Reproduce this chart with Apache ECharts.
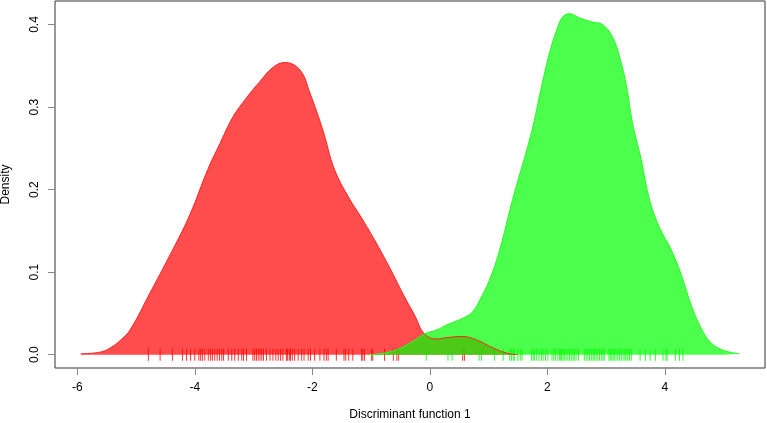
<!DOCTYPE html>
<html>
<head>
<meta charset="utf-8">
<title>Discriminant function 1</title>
<script src="https://cdn.jsdelivr.net/npm/echarts@6/dist/echarts.min.js"></script>
<style>
  html, body { margin: 0; padding: 0; background: #fff; }
  #chart { width: 767px; height: 423px; }
</style>
</head>
<body>
<div id="chart"></div>
<script>
// density curve of group 1 (red)
const redX = [-5.94, -5.61, -5.44, -5.27, -5.10, -4.76, -4.34, -4.08, -3.78, -3.57, -3.35, -3.11, -2.89, -2.67, -2.47, -2.21, -2.04, -1.82, -1.62, -1.36, -1.19, -0.94, -0.68, -0.43, -0.26, -0.09, 0.11, 0.33, 0.56, 0.79, 1.02, 1.30, 1.50]
const redY = [0.001, 0.003, 0.008, 0.017, 0.030, 0.075, 0.132, 0.170, 0.224, 0.256, 0.288, 0.312, 0.331, 0.348, 0.354, 0.345, 0.317, 0.272, 0.224, 0.188, 0.169, 0.139, 0.105, 0.070, 0.048, 0.025, 0.019, 0.021, 0.022, 0.018, 0.010, 0.002, 0.000]
// density curve of group 2 (green)
const greenX = [-1.05, -0.85, -0.56, -0.29, -0.09, 0.12, 0.29, 0.56, 0.73, 0.85, 1.02, 1.19, 1.41, 1.73, 1.90, 2.04, 2.16, 2.26, 2.38, 2.55, 2.77, 2.94, 3.11, 3.23, 3.35, 3.45, 3.60, 3.74, 3.91, 4.11, 4.28, 4.45, 4.62, 4.79, 5.01, 5.27]
const greenY = [0.000, 0.001, 0.006, 0.016, 0.025, 0.030, 0.036, 0.044, 0.052, 0.066, 0.091, 0.127, 0.188, 0.269, 0.324, 0.366, 0.393, 0.409, 0.413, 0.408, 0.403, 0.400, 0.385, 0.361, 0.325, 0.281, 0.236, 0.188, 0.154, 0.127, 0.097, 0.060, 0.032, 0.014, 0.005, 0.001]
// rug of observed scores
const redRug = [-4.79, -4.59, -4.38, -4.21, -4.14, -4.07, -4.00, -3.93, -3.90, -3.87, -3.83, -3.77, -3.73, -3.70, -3.66, -3.62, -3.58, -3.54, -3.51, -3.43, -3.37, -3.32, -3.26, -3.20, -3.17, -3.12, -3.01, -2.98, -2.95, -2.92, -2.89, -2.86, -2.83, -2.78, -2.72, -2.67, -2.62, -2.58, -2.54, -2.50, -2.44, -2.42, -2.39, -2.37, -2.34, -2.30, -2.24, -2.18, -2.14, -2.07, -2.03, -1.96, -1.87, -1.80, -1.76, -1.73, -1.59, -1.46, -1.43, -1.38, -1.31, -1.16, -1.14, -1.11, -0.99, -0.97, -0.77, -0.62, -0.56, -0.53, 0.56, 0.59]
const greenRug = [-0.06, 0.31, 0.38, 0.84, 0.88, 1.10, 1.25, 1.36, 1.39, 1.42, 1.44, 1.50, 1.54, 1.57, 1.73, 1.76, 1.78, 1.82, 1.86, 1.90, 1.93, 1.97, 2.01, 2.08, 2.11, 2.14, 2.18, 2.21, 2.23, 2.24, 2.27, 2.29, 2.32, 2.35, 2.38, 2.41, 2.44, 2.46, 2.49, 2.53, 2.63, 2.66, 2.69, 2.72, 2.75, 2.78, 2.80, 2.83, 2.86, 2.89, 2.92, 2.95, 2.97, 3.05, 3.07, 3.09, 3.12, 3.14, 3.17, 3.20, 3.23, 3.26, 3.29, 3.32, 3.34, 3.37, 3.40, 3.43, 3.58, 3.67, 3.75, 3.84, 3.97, 4.02, 4.04, 4.18, 4.25, 4.31]
const xTicks = [-6, -4, -2, 0, 2, 4]
const yTicks = [0, 0.1, 0.2, 0.3, 0.4]

const font = 'Liberation Sans, Arial, sans-serif'
const myChart = echarts.init(document.getElementById('chart'))

const option = {
  animation: false,
  grid: {
    left: 55,
    right: 2,
    top: 1,
    bottom: 55,
    containLabel: false,
    outerBoundsMode: 'none',
    show: true,
    borderColor: '#333',
    borderWidth: 1
  },
  xAxis: {
    type: 'value',
    min: -6.379,
    max: 5.706,
    name: 'Discriminant function 1',
    nameLocation: 'middle',
    nameGap: 41,
    nameTextStyle: { fontFamily: font, fontSize: 12, color: '#000' },
    axisLine: { show: false, onZero: false },
    axisTick: { show: true, length: 7, customValues: xTicks, lineStyle: { color: '#888' } },
    axisLabel: { customValues: xTicks, margin: 14, fontFamily: font, fontSize: 12, color: '#000' },
    splitLine: { show: false }
  },
  yAxis: {
    type: 'value',
    min: -0.0162,
    max: 0.4285,
    name: 'Density',
    nameLocation: 'middle',
    nameGap: 43,
    nameRotate: 90,
    nameTextStyle: { fontFamily: font, fontSize: 12, color: '#000' },
    axisLine: { show: false, onZero: false },
    axisTick: { show: true, length: 7, customValues: yTicks, lineStyle: { color: '#888' } },
    axisLabel: {
      customValues: yTicks,
      rotate: 90,
      margin: 14,
      fontFamily: font,
      fontSize: 12,
      color: '#000',
      formatter: v => v.toFixed(1)
    },
    splitLine: { show: false }
  },
  series: [
    {
      name: 'group 1',
      type: 'line',
      smooth: 0.4,
      showSymbol: false,
      data: redX.map((x, i) => [x, redY[i]]),
      lineStyle: { color: '#ff2020', width: 1 },
      areaStyle: { color: '#ff0000', opacity: 0.7 }
    },
    {
      name: 'group 2',
      type: 'line',
      smooth: 0.4,
      showSymbol: false,
      data: greenX.map((x, i) => [x, greenY[i]]),
      lineStyle: { color: '#20ff20', width: 1 },
      areaStyle: { color: '#00ff00', opacity: 0.7 }
    },
    {
      name: 'rug 1',
      type: 'scatter',
      symbol: 'rect',
      symbolSize: [1, 12],
      data: redRug.map(x => [x, 0]),
      itemStyle: { color: '#ff0000' }
    },
    {
      name: 'rug 2',
      type: 'scatter',
      symbol: 'rect',
      symbolSize: [1, 12],
      data: greenRug.map(x => [x, 0]),
      itemStyle: { color: '#00ff00' }
    }
  ]
}

option && myChart.setOption(option)
</script>
</body>
</html>
